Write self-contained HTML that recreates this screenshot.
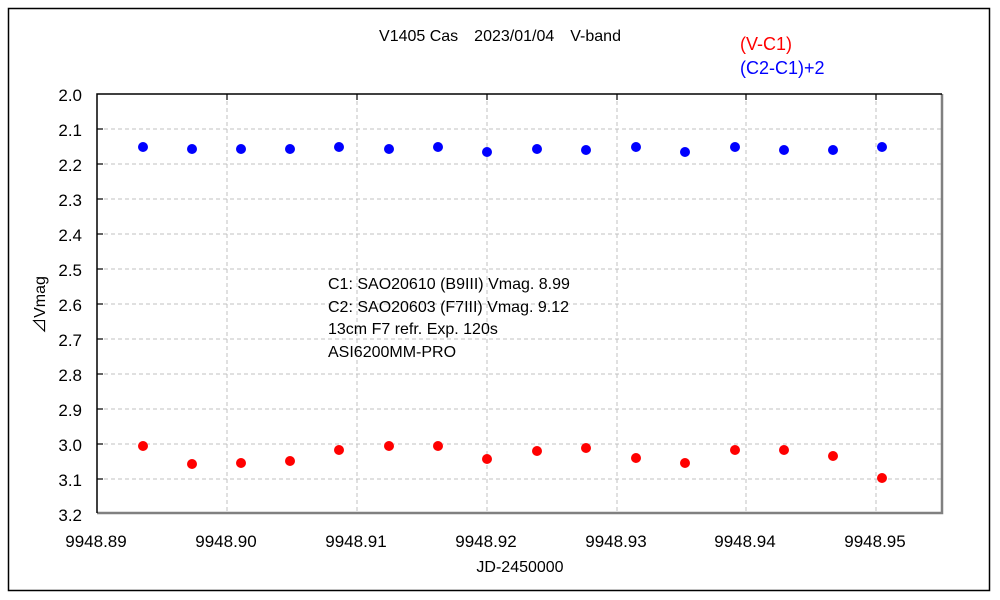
<!DOCTYPE html>
<html><head><style>body{margin:0;background:#fff}svg{display:block}text{font-family:"Liberation Sans","Noto Sans CJK JP",sans-serif}</style></head>
<body>
<svg width="1000" height="600" xmlns="http://www.w3.org/2000/svg">
<rect x="8.5" y="8.5" width="981" height="582" fill="#fff" stroke="#000" stroke-width="1.5"/>
<g stroke="#c0c0c0" stroke-dasharray="4,3" stroke-width="1">
<line x1="97" y1="129" x2="942" y2="129"/><line x1="97" y1="164" x2="942" y2="164"/><line x1="97" y1="199" x2="942" y2="199"/><line x1="97" y1="234" x2="942" y2="234"/><line x1="97" y1="269" x2="942" y2="269"/><line x1="97" y1="304" x2="942" y2="304"/><line x1="97" y1="339" x2="942" y2="339"/><line x1="97" y1="374" x2="942" y2="374"/><line x1="97" y1="409" x2="942" y2="409"/><line x1="97" y1="444" x2="942" y2="444"/><line x1="97" y1="479" x2="942" y2="479"/>
<line x1="227" y1="94" x2="227" y2="513"/><line x1="357" y1="94" x2="357" y2="513"/><line x1="487" y1="94" x2="487" y2="513"/><line x1="617" y1="94" x2="617" y2="513"/><line x1="746" y1="94" x2="746" y2="513"/><line x1="876" y1="94" x2="876" y2="513"/>
</g>
<polyline points="942,94 942,513 97,513" fill="none" stroke="#808080" stroke-width="2.5"/>
<polyline points="97,513 97,94 942,94" fill="none" stroke="#000" stroke-width="1.5"/>
<g stroke="#000" stroke-width="1.2">
<line x1="97" y1="129" x2="103" y2="129"/><line x1="97" y1="164" x2="103" y2="164"/><line x1="97" y1="199" x2="103" y2="199"/><line x1="97" y1="234" x2="103" y2="234"/><line x1="97" y1="269" x2="103" y2="269"/><line x1="97" y1="304" x2="103" y2="304"/><line x1="97" y1="339" x2="103" y2="339"/><line x1="97" y1="374" x2="103" y2="374"/><line x1="97" y1="409" x2="103" y2="409"/><line x1="97" y1="444" x2="103" y2="444"/><line x1="97" y1="479" x2="103" y2="479"/>
<line x1="227" y1="94" x2="227" y2="100"/><line x1="357" y1="94" x2="357" y2="100"/><line x1="487" y1="94" x2="487" y2="100"/><line x1="617" y1="94" x2="617" y2="100"/><line x1="746" y1="94" x2="746" y2="100"/><line x1="876" y1="94" x2="876" y2="100"/>
</g>
<g font-size="17" text-anchor="end" fill="#000">
<text x="82" y="101">2.0</text><text x="82" y="136">2.1</text><text x="82" y="171">2.2</text><text x="82" y="206">2.3</text><text x="82" y="241">2.4</text><text x="82" y="276">2.5</text><text x="82" y="311">2.6</text><text x="82" y="346">2.7</text><text x="82" y="381">2.8</text><text x="82" y="416">2.9</text><text x="82" y="451">3.0</text><text x="82" y="486">3.1</text><text x="82" y="521">3.2</text>
</g>
<g font-size="17" text-anchor="middle" fill="#000">
<text x="96" y="547">9948.89</text><text x="226" y="547">9948.90</text><text x="356" y="547">9948.91</text><text x="486" y="547">9948.92</text><text x="616" y="547">9948.93</text><text x="745" y="547">9948.94</text><text x="875" y="547">9948.95</text>
<text x="520" y="572" font-size="16">JD-2450000</text>
<text x="500" y="41" font-size="16">V1405 Cas　2023/01/04　V-band</text>
</g>
<text transform="translate(45,305) rotate(-90)" font-size="16" text-anchor="middle">⊿Vmag</text>
<text x="740" y="50" font-size="18" fill="#ff0000">(V-C1)</text>
<text x="740" y="74" font-size="18" fill="#0000ff">(C2-C1)+2</text>
<g font-size="16" fill="#000">
<text x="328" y="289">C1: SAO20610 (B9III) Vmag. 8.99</text>
<text x="328" y="312">C2: SAO20603 (F7III) Vmag. 9.12</text>
<text x="328" y="334">13cm F7 refr.  Exp. 120s</text>
<text x="328" y="357">ASI6200MM-PRO</text>
</g>
<g fill="#0000ff">
<circle cx="143" cy="147" r="5"/><circle cx="192" cy="149" r="5"/><circle cx="241" cy="149" r="5"/><circle cx="290" cy="149" r="5"/><circle cx="339" cy="147" r="5"/><circle cx="389" cy="149" r="5"/><circle cx="438" cy="147" r="5"/><circle cx="487" cy="152" r="5"/><circle cx="537" cy="149" r="5"/><circle cx="586" cy="150" r="5"/><circle cx="636" cy="147" r="5"/><circle cx="685" cy="152" r="5"/><circle cx="735" cy="147" r="5"/><circle cx="784" cy="150" r="5"/><circle cx="833" cy="150" r="5"/><circle cx="882" cy="147" r="5"/>
</g>
<g fill="#ff0000">
<circle cx="143" cy="446" r="5"/><circle cx="192" cy="464" r="5"/><circle cx="241" cy="463" r="5"/><circle cx="290" cy="461" r="5"/><circle cx="339" cy="450" r="5"/><circle cx="389" cy="446" r="5"/><circle cx="438" cy="446" r="5"/><circle cx="487" cy="459" r="5"/><circle cx="537" cy="451" r="5"/><circle cx="586" cy="448" r="5"/><circle cx="636" cy="458" r="5"/><circle cx="685" cy="463" r="5"/><circle cx="735" cy="450" r="5"/><circle cx="784" cy="450" r="5"/><circle cx="833" cy="456" r="5"/><circle cx="882" cy="478" r="5"/>
</g>
</svg>
</body></html>
